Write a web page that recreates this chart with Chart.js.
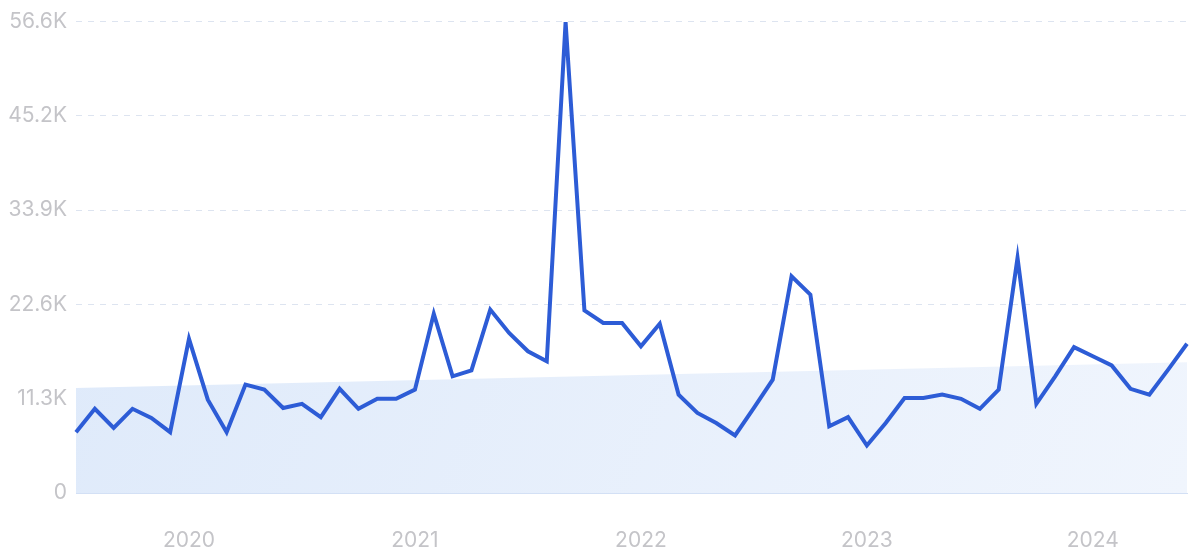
<!DOCTYPE html>
<html>
<head>
<meta charset="utf-8">
<script src="https://cdn.jsdelivr.net/npm/chart.js@4"></script>
<style>
    html, body { margin: 0; padding: 0; background: #ffffff; }
    #wrap { width: 1200px; height: 558px; }
</style>
</head>
<body>
<div id="wrap"><canvas id="trendChart" width="1200" height="558"></canvas></div>
<script>
// Months, Jul 2019 .. Jun 2024
const months = [
    "2019-07", "2019-08", "2019-09", "2019-10", "2019-11", "2019-12",
    "2020-01", "2020-02", "2020-03", "2020-04", "2020-05", "2020-06",
    "2020-07", "2020-08", "2020-09", "2020-10", "2020-11", "2020-12",
    "2021-01", "2021-02", "2021-03", "2021-04", "2021-05", "2021-06",
    "2021-07", "2021-08", "2021-09", "2021-10", "2021-11", "2021-12",
    "2022-01", "2022-02", "2022-03", "2022-04", "2022-05", "2022-06",
    "2022-07", "2022-08", "2022-09", "2022-10", "2022-11", "2022-12",
    "2023-01", "2023-02", "2023-03", "2023-04", "2023-05", "2023-06",
    "2023-07", "2023-08", "2023-09", "2023-10", "2023-11", "2023-12",
    "2024-01", "2024-02", "2024-03", "2024-04", "2024-05", "2024-06"
];

// Monthly volume
const volume = [
    7300, 10100, 7800, 10100, 9000, 7300,
    18500, 11200, 7300, 13000, 12400, 10200,
    10700, 9100, 12500, 10100, 11300, 11300,
    12400, 21500, 14000, 14700, 22000, 19200,
    17000, 15800, 56500, 21900, 20400, 20400,
    17600, 20300, 11800, 9600, 8400, 6900,
    10200, 13600, 26000, 23800, 8000, 9100,
    5700, 8400, 11400, 11400, 11800, 11300,
    10100, 12400, 28200, 10700, 14000, 17500,
    16400, 15300, 12500, 11800, 14800, 17900
];

// Trend: only start and end values, the rest is spanned
const trendStart = 12600;
const trendEnd = 15700;

// Y axis ticks
const yTicks = [0, 11310, 22620, 33930, 45240, 56550];

function formatK(value) {
    if (value === 0) return "0";
    return (Math.round(value / 100) / 10).toFixed(1) + "K";
}

function buildTrend() {
    const trend = months.map(() => null);
    trend[0] = trendStart;
    trend[trend.length - 1] = trendEnd;
    return trend;
}

function loadChart() {
    const canvas = document.getElementById("trendChart");
    const ctx = canvas.getContext("2d");

    new Chart(ctx, {
        type: "line",
        data: {
            labels: months,
            datasets: [
                {
                    label: "Volume",
                    data: volume,
                    borderColor: "rgb(45, 92, 214)",
                    borderWidth: 4,
                    pointRadius: 0,
                    tension: 0,
                    fill: false,
                    order: 1
                },
                {
                    label: "Trend",
                    data: buildTrend(),
                    spanGaps: true,
                    borderWidth: 0,
                    borderColor: "rgba(0,0,0,0)",
                    pointRadius: 0,
                    fill: "origin",
                    backgroundColor: (c) => {
                        const area = c.chart.chartArea;
                        if (!area) return "rgba(220, 232, 249, 0.8)";
                        const g = c.chart.ctx.createLinearGradient(area.left, area.top, area.right, area.bottom);
                        g.addColorStop(0, "rgba(221, 233, 250, 1)");
                        g.addColorStop(1, "rgba(240, 245, 253, 1)");
                        return g;
                    },
                    order: 2
                }
            ]
        },
        options: {
            responsive: false,
            animation: false,
            layout: { padding: { top: 20, right: 13, left: 0, bottom: 0 } },
            plugins: {
                legend: { display: false },
                tooltip: { enabled: false }
            },
            scales: {
                x: {
                    offset: false,
                    grid: { display: false, drawTicks: false },
                    border: { display: true, color: "#d3e0f5", width: 1 },
                    ticks: {
                        autoSkip: false,
                        maxRotation: 0,
                        padding: 35,
                        color: "#c4c4c8",
                        font: { family: "Inter", size: 21 },
                        callback: function (value) {
                            const label = months[value];
                            return label.endsWith("-01") ? label.slice(0, 4) : null;
                        }
                    },
                    afterFit: (scale) => { scale.height = 65; }
                },
                y: {
                    min: 0,
                    max: yTicks[yTicks.length - 1],
                    afterBuildTicks: (scale) => {
                        scale.ticks = yTicks.map(v => ({ value: v }));
                    },
                    grid: {
                        color: (c) => c.tick.value === 0 ? "rgba(0,0,0,0)" : "#dde4f0",
                        drawTicks: false
                    },
                    border: { display: false, dash: [6, 6] },
                    ticks: {
                        padding: 9,
                        color: "#c4c4c8",
                        font: { family: "Inter", size: 21 },
                        callback: (value) => formatK(value)
                    },
                    afterFit: (scale) => { scale.width = 76; }
                }
            }
        }
    });
}

document.addEventListener("DOMContentLoaded", () => {
    loadChart();
});
</script>
</body>
</html>
